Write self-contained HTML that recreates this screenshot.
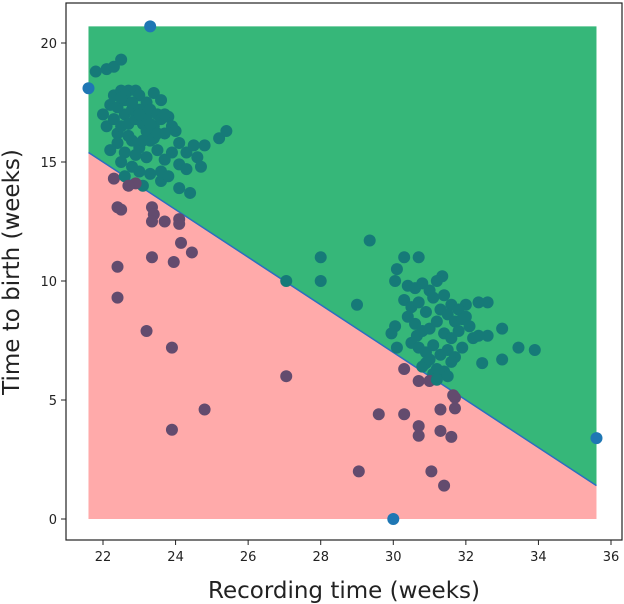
<!DOCTYPE html>
<html><head><meta charset="utf-8"><style>
body{margin:0;background:#fff;}
svg{display:block;font-family:"DejaVu Sans","Liberation Sans",sans-serif;}
</style></head><body>
<svg id="chart" width="624" height="604"></svg>
<script>
const xTicks=[22,24,26,28,30,32,34,36];
const yTicks=[0,5,10,15,20];
const regionX=[21.6,35.6];
const regionY=[0,20.7];
const boundaryY=[15.4,1.4];
const ptsX=[21.8,22.1,22.3,22.5,22.0,22.2,22.3,22.5,22.6,22.7,22.9,23.0,23.2,23.4,23.6,22.1,22.3,22.4,22.5,22.6,22.7,22.8,22.9,23.0,23.1,23.2,23.3,23.4,23.5,23.6,23.7,23.8,23.9,24.0,22.2,22.4,22.6,22.8,23.0,23.2,23.3,23.5,23.7,23.9,24.1,24.3,24.5,24.6,24.8,25.2,25.4,22.5,22.8,23.0,23.3,23.6,24.1,24.3,24.7,22.3,22.6,23.1,23.6,24.1,24.4,22.9,23.8,
22.4,22.6,22.8,23.0,23.2,23.4,22.7,22.9,23.1,23.3,23.5,22.5,23.7,
29.35,28.0,28.0,29.0,30.3,30.7,30.1,30.05,31.35,33.0,33.45,33.9,33.0,32.45,32.6,32.35,32.0,32.6,32.35,30.05,29.95,30.1,30.65,30.9,31.1,30.4,30.6,30.8,31.0,31.2,31.4,31.6,31.8,32.0,30.3,30.5,30.7,30.9,31.1,31.3,31.5,31.7,31.9,32.1,30.4,30.6,30.8,31.0,31.2,31.4,31.6,31.8,32.2,30.5,30.7,30.9,31.1,31.3,31.5,31.7,31.9,30.8,31.0,31.2,31.4,31.6,31.2,31.5,
22.4,22.5,22.4,22.4,22.7,23.35,23.4,23.35,23.7,24.1,24.1,24.15,24.45,23.35,23.95,23.2,23.9,23.9,24.8,27.05,27.05,29.05,29.6,30.3,30.3,30.7,30.7,31.05,31.4,31.3,31.3,31.6,31.7,31.7,30.7,31.0,31.2,31.65,
23.3,21.6,30.0,35.6];
const ptsY=[18.8,18.9,19.0,19.3,17.0,17.4,17.8,18.0,17.6,18.0,18.0,17.8,17.5,17.9,17.6,16.5,16.8,16.2,16.5,17.0,16.6,17.2,16.8,17.2,16.6,16.9,17.2,16.5,17.0,16.8,16.2,16.9,16.5,16.3,15.5,15.8,15.4,15.9,15.6,15.2,15.9,15.5,15.1,15.4,15.8,15.4,15.7,15.2,15.7,16.0,16.3,15.0,14.8,14.6,14.5,14.6,14.9,14.7,14.8,14.3,14.4,14.0,14.2,13.9,13.7,14.1,14.4,
17.3,17.8,17.5,17.0,16.3,16.0,16.1,15.3,15.9,16.6,16.2,17.7,17.0,
11.7,11.0,10.0,9.0,11.0,11.0,10.5,10.0,10.2,8.0,7.2,7.1,6.7,6.55,9.1,9.1,9.0,7.7,7.7,8.1,7.8,7.2,7.7,6.55,6.1,9.8,9.7,9.9,9.6,10.0,9.4,9.0,8.8,8.5,9.2,8.9,9.1,8.7,9.3,8.8,8.6,8.3,8.4,8.1,8.5,8.2,7.9,8.0,8.3,7.8,7.6,7.9,7.6,7.4,7.2,7.0,7.3,6.9,7.1,6.8,7.2,6.4,6.7,6.3,6.2,6.6,5.9,6.0,
13.1,13.0,10.6,9.3,14.0,13.1,12.8,12.5,12.5,12.6,12.4,11.6,11.2,11.0,10.8,7.9,7.2,3.75,4.6,10.0,6.0,2.0,4.4,6.3,4.4,3.9,3.5,2.0,1.4,3.7,4.6,3.45,4.65,5.1,5.8,5.8,5.85,5.2,
20.7,18.1,0,3.4];
const NS='http://www.w3.org/2000/svg';
const svg=document.getElementById('chart');
const L=66,T=3,R=622,B=540;
const xs=v=>103+(v-22)*(508/14);
const ys=v=>519-v*(476/20);
function mk(tag,attrs,parent){const e=document.createElementNS(NS,tag);for(const k in attrs)e.setAttribute(k,attrs[k]);(parent||svg).appendChild(e);return e;}
const g1=mk('polygon',{points:`${xs(regionX[0])},${ys(regionY[1])} ${xs(regionX[1])},${ys(regionY[1])} ${xs(regionX[1])},${ys(boundaryY[1])} ${xs(regionX[0])},${ys(boundaryY[0])}`,fill:'#36b779'});


const p1=mk('polygon',{points:`${xs(regionX[0])},${ys(boundaryY[0])} ${xs(regionX[1])},${ys(boundaryY[1])} ${xs(regionX[1])},${ys(regionY[0])} ${xs(regionX[0])},${ys(regionY[0])}`,fill:'#ffaaaa'});


const bl=mk('line',{x1:xs(regionX[0]),y1:ys(boundaryY[0]),x2:xs(regionX[1]),y2:ys(boundaryY[1]),stroke:'#2a6fc0','stroke-width':1.5});


function lineAt(x){return boundaryY[0]+(x-regionX[0])*(boundaryY[1]-boundaryY[0])/(regionX[1]-regionX[0]);}
for(let i=0;i<ptsX.length;i++){
  const x=ptsX[i],y=ptsY[i];
  let c;
  if(x<=regionX[0]+0.01||x>=regionX[1]-0.01||y<=regionY[0]+0.01||y>=regionY[1]-0.01)c='#1f77b4';
  else c=(y>=lineAt(x))?'#167a78':'#634b6e';
  const d=mk('circle',{cx:xs(x),cy:ys(y),r:6,fill:c});
  
  
}
const fr=mk('rect',{x:L,y:T,width:R-L,height:B-T,fill:'none',stroke:'#222','stroke-width':1.2});


xTicks.forEach(t=>{
  const tk=mk('line',{x1:xs(t),y1:B,x2:xs(t),y2:B+5,stroke:'#222'});
  
  
  const tx=mk('text',{x:xs(t),y:B+21,'text-anchor':'middle','font-size':13,fill:'#222'});
  tx.textContent=t;
  
  
});
yTicks.forEach(t=>{
  const tk=mk('line',{x1:L-5,y1:ys(t),x2:L,y2:ys(t),stroke:'#222'});
  
  
  const tx=mk('text',{x:L-9,y:ys(t)+5,'text-anchor':'end','font-size':13,fill:'#222'});
  tx.textContent=t;
  
  
});
const xl=mk('text',{x:344,y:598,'text-anchor':'middle','font-size':23,fill:'#222'});
xl.textContent='Recording time (weeks)';


const yl=mk('text',{x:0,y:0,'text-anchor':'middle','font-size':23,fill:'#222',transform:'translate(19,272) rotate(-90)'});
yl.textContent='Time to birth (weeks)';


</script>
</body></html>
